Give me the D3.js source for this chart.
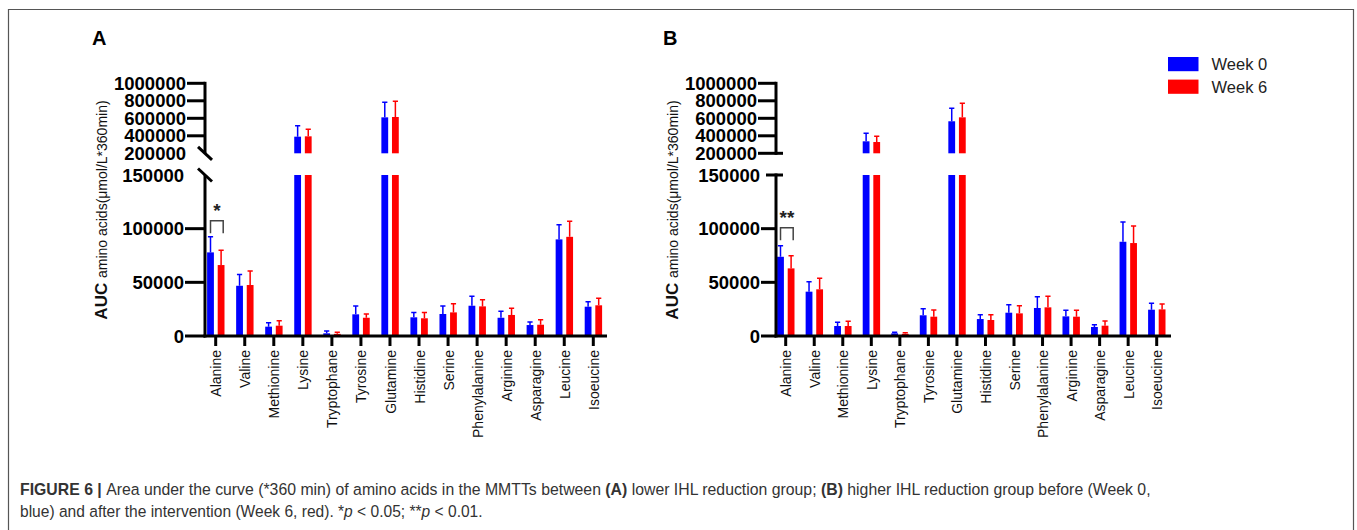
<!DOCTYPE html>
<html>
<head>
<meta charset="utf-8">
<script src="https://cdn.jsdelivr.net/npm/d3@7"></script>
<style>
  body { margin: 0; background: #fff; }
  svg { display: block; font-family: "Liberation Sans", Arial, sans-serif; }
</style>
</head>
<body>
<svg id="canvas" width="1357" height="530"></svg>
<script>
// amino acids on the x axis
const categories = ["Alanine", "Valine", "Methionine", "Lysine", "Tryptophane", "Tyrosine",
    "Glutamine", "Histidine", "Serine", "Phenylalanine", "Arginine", "Asparagine", "Leucine", "Isoeucine"];

// panel A: lower IHL reduction group (mean, SD)
const aWeek0 = [77900, 46800, 8700, 390000, 2500, 20200, 611000, 17400, 20500, 28200, 17000, 10200, 90000, 27300];
const aWeek0Sd = [14600, 10600, 3700, 125000, 2100, 7700, 172000, 4600, 7400, 8800, 6000, 2800, 13600, 4700];
const aWeek6 = [66100, 47500, 9600, 394000, 2000, 17000, 615000, 16500, 22000, 27600, 19600, 10500, 92400, 28600];
const aWeek6Sd = [13900, 13000, 4600, 80000, 1500, 3500, 179000, 5500, 8000, 6200, 6200, 4700, 14600, 6500];

// panel B: higher IHL reduction group (mean, SD)
const bWeek0 = [73800, 41300, 9300, 337000, 2500, 19300, 566000, 15800, 21700, 26100, 18300, 8400, 87800, 24500];
const bWeek0Sd = [10300, 9300, 3400, 92000, 1000, 6100, 148000, 4000, 7400, 10400, 5600, 2100, 18300, 5900];
const bWeek6 = [63000, 43500, 9300, 329000, 2000, 18000, 611000, 14900, 21100, 26700, 18000, 9600, 86600, 24800];
const bWeek6Sd = [11800, 10200, 4400, 65000, 1000, 6200, 160000, 4900, 7100, 10300, 5900, 4400, 15800, 5000];

const lowerTicks = [0, 50000, 100000, 150000];
const upperTicks = [200000, 400000, 600000, 800000, 1000000];
const seriesNames = ["Week 0", "Week 6"];
const seriesColors = ["#0000ff", "#ff0000"];

const svg = d3.select("#canvas");

// frame around the figure
svg.append("path")
    .attr("d", "M8.5,540 V9.5 H1353.5 V540")
    .attr("fill", "none")
    .attr("stroke", "#555")
    .attr("stroke-width", 1.2);

/**
 * Draws one broken-axis bar panel.
 */
function drawPanel(cfg) {
    const g = svg.append("g");
    const ax = cfg.axisX;

    const yLow = d3.scaleLinear().domain([0, 150000]).range([336, 175]);
    const yUp = d3.scaleLinear().domain([200000, 1000000]).range([153.3, 83.3]);
    const x = d3.scalePoint().domain(categories).range([cfg.first, cfg.last]);

    // y of any value on the broken axis
    const yOf = v => v <= 150000 ? yLow(v) : yUp(v);

    // panel letter
    g.append("text")
        .attr("x", ax - 113)
        .attr("y", 45)
        .attr("font-size", 20)
        .attr("font-weight", "bold")
        .text(cfg.letter);

    // bars
    const series = [
        {mean: cfg.w0, sd: cfg.w0sd, color: seriesColors[0], off: -5.2},
        {mean: cfg.w6, sd: cfg.w6sd, color: seriesColors[1], off: 5.4}
    ];
    const bw = 6.8;
    series.forEach(s => {
        const data = categories.map((c, i) => ({c: c, v: s.mean[i], sd: s.sd[i]}));
        const cx = d => x(d.c) + s.off;

        g.selectAll(null).data(data).enter().append("rect")
            .attr("x", d => cx(d) - bw / 2)
            .attr("width", bw)
            .attr("y", d => yLow(Math.min(d.v, 150000)))
            .attr("height", d => yLow(0) - yLow(Math.min(d.v, 150000)))
            .attr("fill", s.color);

        g.selectAll(null).data(data.filter(d => d.v > 150000)).enter().append("rect")
            .attr("x", d => cx(d) - bw / 2)
            .attr("width", bw)
            .attr("y", d => yUp(d.v))
            .attr("height", d => yUp(200000) - yUp(d.v))
            .attr("fill", s.color);

        // error bars (upper half only)
        g.selectAll(null).data(data).enter().append("path")
            .attr("d", d => {
                const x0 = cx(d), y0 = yOf(d.v), y1 = yOf(d.v + d.sd);
                return `M${x0},${y0} V${y1} M${x0 - 2.6},${y1} H${x0 + 2.6}`;
            })
            .attr("fill", "none")
            .attr("stroke", s.color)
            .attr("stroke-width", 1.5);
    });

    // y axis, lower segment
    g.append("line")
        .attr("x1", ax).attr("x2", ax)
        .attr("y1", yLow(150000) - (cfg.slash ? 0 : 1.5)).attr("y2", yLow(0) + 1.5)
        .attr("stroke", "#000").attr("stroke-width", 3);
    // y axis, upper segment
    g.append("line")
        .attr("x1", ax).attr("x2", ax)
        .attr("y1", yUp(1000000) - 1.5).attr("y2", yUp(200000) + (cfg.slash ? 0 : 1.5))
        .attr("stroke", "#000").attr("stroke-width", 3);

    // tick labels and tick marks
    const tickGroups = [
        {ticks: lowerTicks, scale: yLow, len: cfg.lowTick},
        {ticks: upperTicks, scale: yUp, len: 18}
    ];
    tickGroups.forEach(tg => {
        g.selectAll(null).data(tg.ticks).enter().append("text")
            .attr("x", ax - tg.len - 1)
            .attr("y", d => tg.scale(d))
            .attr("dy", "0.36em")
            .attr("text-anchor", "end")
            .attr("font-size", 18.5)
            .attr("font-weight", "bold")
            .text(d => d);
        g.selectAll(null).data(tg.ticks.filter(t => t !== 150000 && t !== 200000)).enter().append("line")
            .attr("x1", ax - tg.len).attr("x2", ax)
            .attr("y1", d => tg.scale(d)).attr("y2", d => tg.scale(d))
            .attr("stroke", "#000").attr("stroke-width", 3);
    });

    if (cfg.slash) {
        // diagonal break marks
        [yUp(200000), yLow(150000)].forEach(yy => {
            g.append("line")
                .attr("x1", ax - 7).attr("y1", yy - 6.5)
                .attr("x2", ax + 7).attr("y2", yy + 6.5)
                .attr("stroke", "#000").attr("stroke-width", 3);
        });
    } else {
        // end caps at the break
        g.append("line")
            .attr("x1", ax - 18).attr("x2", ax + 7)
            .attr("y1", yUp(200000)).attr("y2", yUp(200000))
            .attr("stroke", "#000").attr("stroke-width", 3);
        g.append("line")
            .attr("x1", ax - 10).attr("x2", ax + 7)
            .attr("y1", yLow(150000)).attr("y2", yLow(150000))
            .attr("stroke", "#000").attr("stroke-width", 3);
    }

    // x axis
    g.append("line")
        .attr("x1", ax - 1.5).attr("x2", cfg.axisEnd)
        .attr("y1", yLow(0)).attr("y2", yLow(0))
        .attr("stroke", "#000").attr("stroke-width", 3);
    g.selectAll(null).data(categories).enter().append("line")
        .attr("x1", d => x(d)).attr("x2", d => x(d))
        .attr("y1", yLow(0)).attr("y2", yLow(0) + 10)
        .attr("stroke", "#000").attr("stroke-width", 3);
    g.selectAll(null).data(categories).enter().append("text")
        .attr("transform", d => `translate(${x(d) + 0.5},${yLow(0) + 14}) rotate(-90)`)
        .attr("dy", "0.36em")
        .attr("text-anchor", "end")
        .attr("font-size", 14)
        .attr("fill", "#111")
        .text(d => d);

    // y axis title
    const title = g.append("text")
        .attr("transform", `translate(${ax - 98},210) rotate(-90)`)
        .attr("text-anchor", "middle")
        .attr("fill", "#111");
    title.append("tspan").attr("font-size", 17).attr("font-weight", "bold").text("AUC ");
    title.append("tspan").attr("font-size", 14).text("amino acids(\u03bcmol/L*360min)");

    // significance bracket on Alanine
    const xa = x(categories[0]);
    const top0 = Math.min(yOf(cfg.w0[0] + cfg.w0sd[0]), yOf(cfg.w6[0] + cfg.w6sd[0]));
    const yb = top0 - cfg.bracketGap;
    const yt = yb - 12.5;
    g.append("path")
        .attr("d", `M${xa - 5.2},${yb} V${yt} H${xa + 7.5} V${yb}`)
        .attr("fill", "none")
        .attr("stroke", "#444")
        .attr("stroke-width", 1.5);
    g.append("text")
        .attr("x", xa + 1.2)
        .attr("y", yt - 4)
        .attr("text-anchor", "middle")
        .attr("font-size", 19)
        .attr("font-weight", "bold")
        .attr("fill", "#222")
        .text(cfg.stars);
}

drawPanel({letter: "A", axisX: 205, first: 215.7, last: 593.3, axisEnd: 607,
    w0: aWeek0, w0sd: aWeek0Sd, w6: aWeek6, w6sd: aWeek6Sd,
    slash: true, lowTick: 20, stars: "*", bracketGap: 3.5});
drawPanel({letter: "B", axisX: 776, first: 785.7, last: 1156.7, axisEnd: 1171,
    w0: bWeek0, w0sd: bWeek0Sd, w6: bWeek6, w6sd: bWeek6Sd,
    slash: false, lowTick: 15, stars: "**", bracketGap: 5.5});

// legend
const legend = svg.append("g");
seriesNames.forEach((name, i) => {
    legend.append("rect")
        .attr("x", 1168).attr("y", 57 + i * 22.6)
        .attr("width", 30.5).attr("height", 14.2)
        .attr("fill", seriesColors[i]);
    legend.append("text")
        .attr("x", 1211.5).attr("y", 70 + i * 22.6)
        .attr("font-size", 16.5)
        .attr("fill", "#222")
        .text(name);
});

// caption: squeezed horizontally with a scale so it reads like a condensed face
function captionLine(y, parts, width) {
    const g = svg.append("g").attr("transform", `translate(20,${y})`);
    const t = g.append("text")
        .attr("font-size", 16.5)
        .attr("fill", "#333");
    parts.forEach(p => {
        t.append("tspan")
            .attr("font-weight", p.b ? "bold" : null)
            .attr("font-style", p.i ? "italic" : null)
            .text(p.t);
    });
    const natural = t.node().getComputedTextLength();
    g.attr("transform", `translate(20,${y}) scale(${width / natural},1)`);
}
captionLine(494.5, [
    {t: "FIGURE 6 | ", b: true},
    {t: "Area under the curve (*360 min) of amino acids in the MMTTs between "},
    {t: "(A)", b: true},
    {t: " lower IHL reduction group; "},
    {t: "(B)", b: true},
    {t: " higher IHL reduction group before (Week 0,"}
], 1131);
captionLine(516.5, [
    {t: "blue) and after the intervention (Week 6, red). *"},
    {t: "p", i: true},
    {t: " < 0.05; **"},
    {t: "p", i: true},
    {t: " < 0.01."}
], 463);
</script>
</body>
</html>
